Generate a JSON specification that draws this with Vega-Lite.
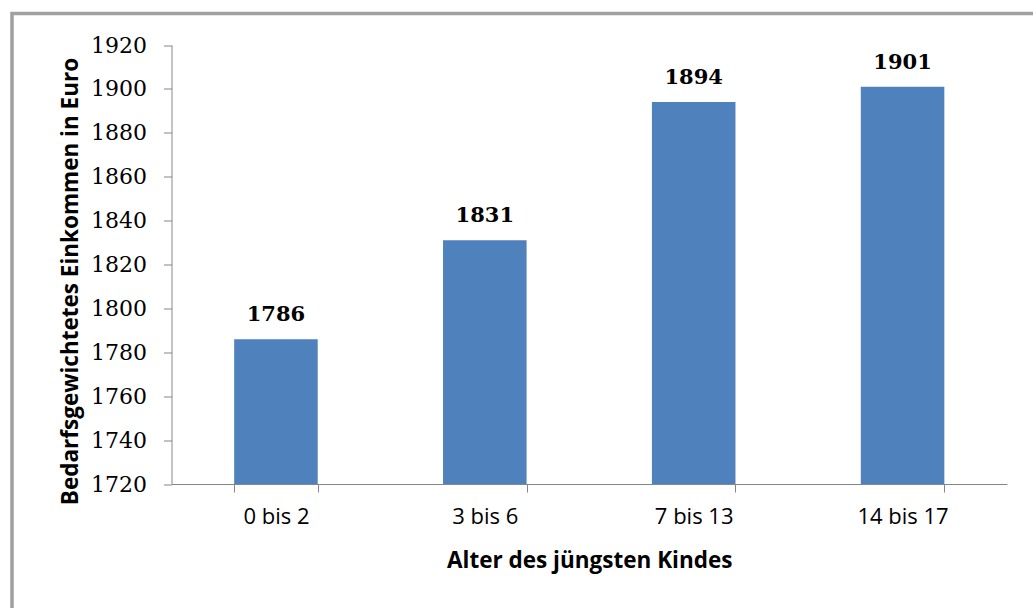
{
  "$schema": "https://vega.github.io/schema/vega-lite/v6.json",
  "width": 1033,
  "height": 600,
  "autosize": {"type": "none"},
  "padding": {"left": 12, "top": 13.5, "right": 0, "bottom": 0},
  "background": "white",
  "config": {"view": {"stroke": "#a0a0a0", "strokeWidth": 3.5}},
  "data": {
    "values": [
      {"alter": "0 bis 2", "einkommen": 1786},
      {"alter": "3 bis 6", "einkommen": 1831},
      {"alter": "7 bis 13", "einkommen": 1894},
      {"alter": "14 bis 17", "einkommen": 1901}
    ]
  },
  "encoding": {
    "x": {
      "field": "alter",
      "type": "nominal",
      "sort": null,
      "scale": {"range": [159.5, 995], "paddingInner": 0.6, "paddingOuter": 0.3},
      "axis": {
        "tickBand": "extent",
        "labelAngle": 0,
        "offset": -129.5,
        "grid": false,
        "domainColor": "#868686",
        "tickColor": "#868686",
        "tickSize": 8,
        "labelPadding": 14,
        "labelFont": "Open Sans",
        "labelFontSize": 22,
        "labelColor": "black",
        "title": "Alter des jüngsten Kindes",
        "titleFont": "Open Sans",
        "titleFontSize": 22.5,
        "titleFontWeight": "bold",
        "titleColor": "black",
        "titlePadding": 22
      }
    },
    "y": {
      "field": "einkommen",
      "type": "quantitative",
      "scale": {"domain": [1720, 1920], "range": [470.5, 31.5], "nice": false, "zero": false},
      "axis": {
        "values": [1720, 1740, 1760, 1780, 1800, 1820, 1840, 1860, 1880, 1900, 1920],
        "format": "d",
        "offset": -159.5,
        "grid": false,
        "domainColor": "#868686",
        "tickColor": "#868686",
        "tickSize": 8,
        "labelPadding": 17,
        "labelFont": "DejaVu Serif",
        "labelFontSize": 22,
        "labelColor": "black",
        "title": "Bedarfsgewichtetes Einkommen in Euro",
        "titleFont": "Open Sans",
        "titleFontSize": 22.5,
        "titleFontWeight": "bold",
        "titleColor": "black",
        "titlePadding": 8,
        "titleY": 267.5
      }
    }
  },
  "layer": [
    {
      "mark": {"type": "bar", "color": "#4F81BD"},
      "encoding": {"y2": {"datum": 1720}}
    },
    {
      "mark": {"type": "text", "baseline": "alphabetic", "dy": -18, "font": "DejaVu Serif", "fontSize": 21, "fontWeight": "bold", "color": "black"},
      "encoding": {"text": {"field": "einkommen", "type": "quantitative", "format": "d"}}
    }
  ]
}
